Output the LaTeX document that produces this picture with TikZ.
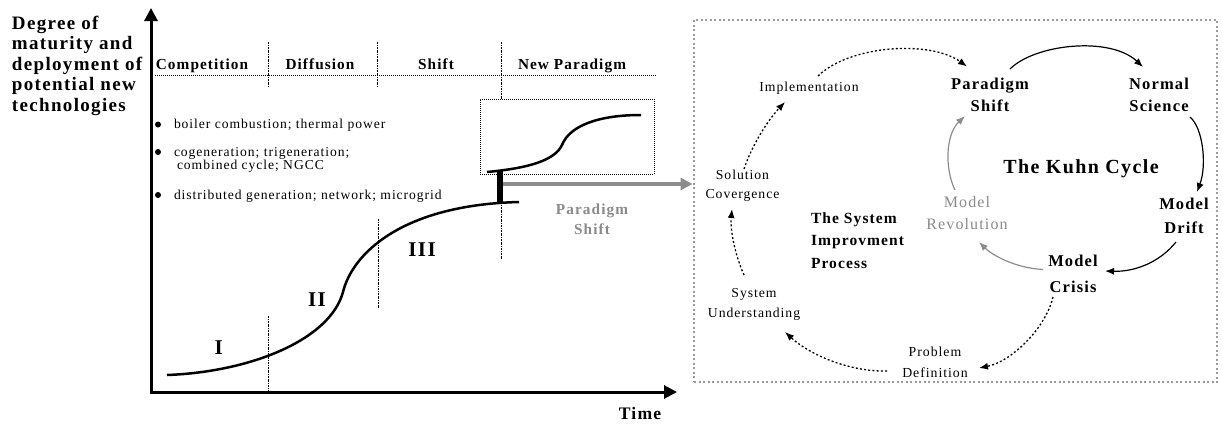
\documentclass[tikz,border=0pt]{standalone}
\usepackage{fontspec}
\setmainfont{Liberation Serif}[LetterSpace=7.0]
\usetikzlibrary{arrows.meta,calc}
\newcommand{\fsz}[2]{\fontsize{#1}{#2}\selectfont}
\definecolor{txtgray}{HTML}{8A8A8A}
\definecolor{boxgray}{HTML}{9A9A9A}
\definecolor{arrgray}{HTML}{8C8C8C}
\begin{document}
\begin{tikzpicture}[x=1pt,y=-1pt,
  lbl/.style={inner sep=0pt, outer sep=0pt},
  axis/.style={line width=3pt, -{Triangle[length=13pt,width=13pt]}},
  curve/.style={line width=2.5pt},
  dotline/.style={line width=0.8pt, dash pattern=on 1pt off 1pt},
  sepline/.style={line width=0.8pt, dash pattern=on 2pt off 1pt on 0.6pt off 1pt},
  phase/.style={lbl, anchor=base, font={\fsz{15.3}{18}\bfseries}},
  bul/.style={lbl, anchor=base west, font={\fsz{13.6}{16}}},
  roman/.style={lbl, font={\fsz{21}{24}\bfseries}},
  kbold/.style={lbl, align=center, font={\fsz{16.5}{22}\bfseries}},
  kreg/.style={lbl, align=center, font={\fsz{13.7}{19}}},
  solidarr/.style={line width=1.2pt, -{Latex[length=9pt,width=7pt]}},
  grayarr/.style={solidarr, draw=arrgray, color=arrgray},
  dotarr/.style={line width=1.3pt, dash pattern=on 2pt off 2.2pt, -{Latex[length=9pt,width=7pt]}},
  shiftarr/.style={line width=4pt, draw=arrgray, color=arrgray, -{Triangle[length=12pt,width=12pt]}},
  bigbox/.style={draw=boxgray, line width=2pt, dash pattern=on 2pt off 2.5pt, inner sep=0pt, outer sep=0pt},
  smallbox/.style={draw, dotline, inner sep=0pt, outer sep=0pt}
]
\useasboundingbox (0,0) rectangle (1222,423);

% ---------- left panel ----------
\coordinate (orig) at (151,392);
\coordinate (ytip) at (151,8);
\coordinate (xtip) at (677,392);
\draw[axis] (151,394) -- (ytip);
\draw[axis] (149.5,392) -- (xtip);

\node[lbl, anchor=west, align=left, font={\fsz{19}{20.5}\bfseries}] (ylabel) at (12,65.5)
  {Degree of\\maturity and\\deployment of\\potential new\\technologies};
\node[lbl, font={\fsz{17.6}{20}\bfseries}] (time) at (640,413) {Time};

% phases
\draw[dotline] (155,75) -- (656,75);
\node[phase] (comp) at (202,69) {Competition};
\node[phase] (diff) at (320,69) {Diffusion};
\node[phase] (shift) at (436,69) {Shift};
\node[phase] (newp) at (572,69) {New Paradigm};
\draw[sepline] (268,42) -- (268,87);
\draw[sepline] (377,42) -- (377,87);
\draw[sepline] (501,42) -- (501,99);

% bullets
\fill (158,124.5) circle (3);
\fill (158,152) circle (3);
\fill (158,195) circle (3);
\node[bul] (b1) at (174,128.5) {boiler combustion; thermal power};
\node[bul] (b2) at (174,156.5) {cogeneration; trigeneration;};
\node[bul] (b3) at (177,169) {combined cycle; NGCC};
\node[bul] (b4) at (174,199) {distributed generation; network; microgrid};

% small box and curves
\node[smallbox, minimum width=174pt, minimum height=75pt, anchor=north west] (zoombox) at (480,99) {};
\draw[curve] (167,375) .. controls (250,372) and (330,340) .. (343,292)
             .. controls (352,255) and (400,205) .. (519,202);
\draw[curve] (487,172) .. controls (530,168) and (555,160) .. (562,145)
             .. controls (570,125) and (600,115) .. (641,115);
\draw[line width=6pt] (500,170) -- (500,202);
\draw[sepline] (268,316) -- (268,392);
\draw[sepline] (378,219) -- (378,309);
\draw[sepline] (501,202) -- (501,259);

\node[roman] (r1) at (218.6,348) {I};
\node[roman] (r2) at (317,300) {II};
\node[roman] (r3) at (422,250) {III};

\node[lbl, align=center, text=txtgray, font={\fsz{15.3}{20}\bfseries}] (pshift) at (592,219) {Paradigm\\Shift};

% ---------- right panel ----------
\node[bigbox, minimum width=523pt, minimum height=362pt, anchor=north west] (frame) at (694,20) {};
\coordinate (barmid) at (503,184);
\draw[shiftarr, shorten >=1.5pt] (barmid) -- (barmid -| frame.west);

\node[kreg] (impl) at (809,88) {Implementation};
\node[kbold] (ps) at (990,94.5) {Paradigm\\Shift};
\node[kbold] (ns) at (1159,94.5) {Normal\\Science};
\node[lbl, font={\fsz{20}{24}\bfseries}] (kuhn) at (1081,169) {The Kuhn Cycle};
\node[kbold, font={\fsz{16.5}{24}\bfseries}] (md) at (1184,216) {Model\\Drift};
\node[kbold, font={\fsz{16.5}{26}\bfseries}] (mc) at (1073,274) {Model\\Crisis};
\node[lbl, align=center, text=txtgray, font={\fsz{16}{22.6}}] (mr) at (967,213) {Model\\Revolution};
\node[lbl, anchor=west, align=left, font={\fsz{15.5}{22.5}\bfseries}] (sip) at (811,240.5) {The System\\Improvment\\Process};
\node[kreg] (sc) at (742.5,186) {Solution\\Covergence};
\node[kreg, font={\fsz{13.7}{20}}] (su) at (754,304) {System\\Understanding};
\node[kreg, font={\fsz{13.8}{21}}] (pd) at (935,362.5) {Problem\\Definition};

\draw[dotarr] ($(impl)+(9,-12)$) .. controls (850,45) and (930,40) .. ($(ps)+(-23,-28)$);
\draw[dotarr] ($(sc)+(1.5,-17)$) .. controls (752,145) and (768,120) .. ($(impl)+(-24,14)$);
\draw[solidarr] ($(ps)+(20,-25.5)$) .. controls (1035,44) and (1110,36) .. ($(ns)+(-16,-27.5)$);
\draw[solidarr] ($(ns)+(31,22.5)$) .. controls (1203,128) and (1207,165) .. ($(md)+(13,-24)$);
\draw[solidarr] ($(md)+(-8,26)$) .. controls (1160,262) and (1135,272) .. ($(mc)+(32,-3)$);
\draw[grayarr] ($(mc)+(-30,-4.5)$) .. controls (1015,268) and (992,255) .. ($(mr)+(12,29)$);
\draw[grayarr] ($(mr)+(-12,-23)$) .. controls (945,170) and (945,135) .. ($(ps)+(-25,21.5)$);
\draw[dotarr] ($(mc)+(-20,23)$) .. controls (1045,330) and (1010,362) .. ($(pd)+(44,5.5)$);
\draw[dotarr] ($(pd)+(-48,8.5)$) .. controls (850,372) and (810,355) .. ($(su)+(31,28)$);
\draw[dotarr] ($(su)+(-10,-29)$) .. controls (735,255) and (730,230) .. ($(sc)+(-10.5,23)$);
\end{tikzpicture}
\end{document}
